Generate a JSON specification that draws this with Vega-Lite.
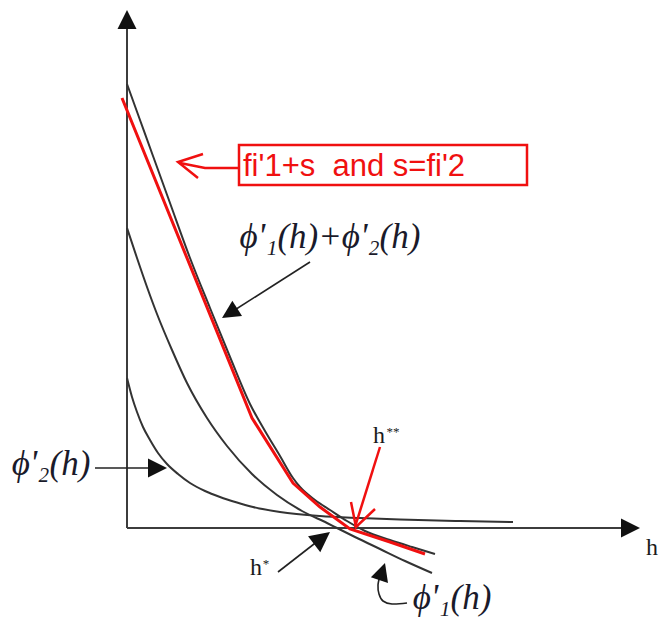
{
  "$schema": "https://vega.github.io/schema/vega-lite/v6.json",
  "width": 662,
  "height": 621,
  "padding": 0,
  "autosize": {"type": "fit", "contains": "padding"},
  "background": "white",
  "config": {"view": {"stroke": null}},
  "datasets": {
    "axes": [
      {"part": "vertical", "h": 0, "v": 0, "k": 0},
      {"part": "vertical", "h": 0, "v": 500, "k": 1},
      {"part": "horizontal", "h": 0, "v": 0, "k": 0},
      {"part": "horizontal", "h": 495, "v": 0, "k": 1}
    ],
    "curves": [
      {"series": "phi1+phi2", "h": 0, "v": 444},
      {"series": "phi1+phi2", "h": 13, "v": 408},
      {"series": "phi1+phi2", "h": 26, "v": 372},
      {"series": "phi1+phi2", "h": 43, "v": 325},
      {"series": "phi1+phi2", "h": 63, "v": 270},
      {"series": "phi1+phi2", "h": 83, "v": 220},
      {"series": "phi1+phi2", "h": 103, "v": 171},
      {"series": "phi1+phi2", "h": 123, "v": 124},
      {"series": "phi1+phi2", "h": 138, "v": 97},
      {"series": "phi1+phi2", "h": 153, "v": 72},
      {"series": "phi1+phi2", "h": 166, "v": 50},
      {"series": "phi1+phi2", "h": 173, "v": 41},
      {"series": "phi1+phi2", "h": 188, "v": 28},
      {"series": "phi1+phi2", "h": 203, "v": 18},
      {"series": "phi1+phi2", "h": 220, "v": 7},
      {"series": "phi1+phi2", "h": 238, "v": -3},
      {"series": "phi1+phi2", "h": 263, "v": -12},
      {"series": "phi1+phi2", "h": 285, "v": -19},
      {"series": "phi1+phi2", "h": 308, "v": -26},
      {"series": "phi1", "h": 0, "v": 300},
      {"series": "phi1", "h": 10, "v": 270},
      {"series": "phi1", "h": 20, "v": 241},
      {"series": "phi1", "h": 30, "v": 214},
      {"series": "phi1", "h": 45, "v": 178},
      {"series": "phi1", "h": 60, "v": 145},
      {"series": "phi1", "h": 80, "v": 110},
      {"series": "phi1", "h": 100, "v": 82},
      {"series": "phi1", "h": 125, "v": 54},
      {"series": "phi1", "h": 150, "v": 33},
      {"series": "phi1", "h": 175, "v": 17},
      {"series": "phi1", "h": 200, "v": 5},
      {"series": "phi1", "h": 210, "v": 0},
      {"series": "phi1", "h": 228, "v": -9},
      {"series": "phi1", "h": 253, "v": -21},
      {"series": "phi1", "h": 278, "v": -33},
      {"series": "phi1", "h": 305, "v": -45},
      {"series": "phi2", "h": 0, "v": 150},
      {"series": "phi2", "h": 5, "v": 131},
      {"series": "phi2", "h": 10, "v": 116},
      {"series": "phi2", "h": 16, "v": 101},
      {"series": "phi2", "h": 23, "v": 88},
      {"series": "phi2", "h": 31, "v": 75},
      {"series": "phi2", "h": 40, "v": 64},
      {"series": "phi2", "h": 51, "v": 54},
      {"series": "phi2", "h": 63, "v": 45},
      {"series": "phi2", "h": 78, "v": 37},
      {"series": "phi2", "h": 93, "v": 31},
      {"series": "phi2", "h": 110, "v": 25.5},
      {"series": "phi2", "h": 126, "v": 21},
      {"series": "phi2", "h": 153, "v": 16},
      {"series": "phi2", "h": 193, "v": 12},
      {"series": "phi2", "h": 233, "v": 10},
      {"series": "phi2", "h": 273, "v": 8.5},
      {"series": "phi2", "h": 333, "v": 7},
      {"series": "phi2", "h": 386, "v": 6}
    ],
    "redCurve": [
      {"h": -5, "v": 430},
      {"h": 125, "v": 110},
      {"h": 166, "v": 45},
      {"h": 193, "v": 21},
      {"h": 223, "v": -1},
      {"h": 263, "v": -14},
      {"h": 298, "v": -26}
    ],
    "redArrows": [
      {"part": "noteShaft", "h": 112, "v": 360, "k": 0},
      {"part": "noteShaft", "h": 78, "v": 360, "k": 1},
      {"part": "noteShaft", "h": 53, "v": 365, "k": 2},
      {"part": "noteHead", "h": 76, "v": 374, "k": 0},
      {"part": "noteHead", "h": 51, "v": 366, "k": 1},
      {"part": "noteHead", "h": 71, "v": 350, "k": 2},
      {"part": "hssShaft", "h": 253, "v": 81, "k": 0},
      {"part": "hssShaft", "h": 228, "v": 1, "k": 1},
      {"part": "hssHead", "h": 224, "v": 26, "k": 0},
      {"part": "hssHead", "h": 229, "v": 1, "k": 1},
      {"part": "hssHead", "h": 248, "v": 19, "k": 2}
    ],
    "note": [
      {"h1": 112, "h2": 400, "v1": 343, "v2": 383}
    ],
    "pointers": [
      {"part": "sum", "h": 183, "v": 266, "k": 0},
      {"part": "sum", "h": 103, "v": 215, "k": 1},
      {"part": "phi2", "h": -32, "v": 60, "k": 0},
      {"part": "phi2", "h": 30, "v": 60, "k": 1},
      {"part": "hstar", "h": 151, "v": -44, "k": 0},
      {"part": "hstar", "h": 196, "v": -9, "k": 1}
    ],
    "hook": [
      {"h": 280, "v": -75, "k": 0},
      {"h": 265, "v": -76, "k": 1},
      {"h": 256, "v": -73, "k": 2},
      {"h": 252, "v": -66, "k": 3},
      {"h": 251, "v": -57, "k": 4},
      {"h": 253, "v": -48, "k": 5}
    ],
    "heads": [
      {"name": "vertical", "h": 0, "v": 518},
      {"name": "horizontal", "h": 513, "v": 0},
      {"name": "phi2", "h": 40, "v": 60},
      {"name": "sum", "h": 95, "v": 210},
      {"name": "hstar", "h": 203, "v": -4},
      {"name": "phi1", "h": 258, "v": -35}
    ],
    "phiLabels": [
      {"label": "ϕ'₁(h)+ϕ'₂(h)", "h": 203, "v": 280},
      {"label": "ϕ'₂(h)", "h": -76, "v": 53},
      {"label": "ϕ'₁(h)", "h": 325, "v": -81}
    ],
    "hLabels": [
      {"label": "h", "h": 525, "v": -27},
      {"label": "h", "h": 129, "v": -47},
      {"label": "h", "h": 252, "v": 85}
    ],
    "stars": [
      {"label": "*", "h": 139, "v": -36},
      {"label": "**", "h": 266, "v": 96}
    ],
    "noteText": [
      {"label": "fi'1+s\u00a0 and s=fi'2", "h": 116, "v": 352}
    ]
  },
  "encoding": {
    "x": {"field": "h", "type": "quantitative", "axis": null, "scale": {"domain": [-127, 535], "nice": false, "zero": false}},
    "y": {"field": "v", "type": "quantitative", "axis": null, "scale": {"domain": [-93, 528], "nice": false, "zero": false}}
  },
  "layer": [
    {
      "data": {"name": "axes"},
      "mark": {"type": "line", "stroke": "#3c3c3c", "strokeWidth": 2},
      "encoding": {"detail": {"field": "part"}, "order": {"field": "k"}}
    },
    {
      "data": {"name": "curves"},
      "mark": {"type": "line", "interpolate": "monotone", "stroke": "#333333", "strokeWidth": 2},
      "encoding": {"detail": {"field": "series"}}
    },
    {
      "data": {"name": "redCurve"},
      "mark": {"type": "line", "stroke": "#f01010", "strokeWidth": 3},
      "encoding": {}
    },
    {
      "data": {"name": "note"},
      "mark": {"type": "rect", "filled": false, "stroke": "#f01010", "strokeWidth": 2.5},
      "encoding": {
        "x": {"field": "h1", "type": "quantitative"},
        "x2": {"field": "h2"},
        "y": {"field": "v1", "type": "quantitative"},
        "y2": {"field": "v2"}
      }
    },
    {
      "data": {"name": "redArrows"},
      "mark": {"type": "line", "stroke": "#f01010", "strokeWidth": 2.5},
      "encoding": {"detail": {"field": "part"}, "order": {"field": "k"}}
    },
    {
      "data": {"name": "pointers"},
      "mark": {"type": "line", "stroke": "#222222", "strokeWidth": 1.6},
      "encoding": {"detail": {"field": "part"}, "order": {"field": "k"}}
    },
    {
      "data": {"name": "hook"},
      "mark": {"type": "line", "interpolate": "cardinal", "stroke": "#222222", "strokeWidth": 1.6},
      "encoding": {"order": {"field": "k"}}
    },
    {
      "data": {"name": "heads"},
      "transform": [{"filter": "datum.name === 'vertical'"}],
      "mark": {"type": "point", "shape": "M0,0L-2,-1L-2,1Z", "filled": true, "fill": "#111111", "opacity": 1, "size": 361, "angle": 270, "strokeWidth": 0}
    },
    {
      "data": {"name": "heads"},
      "transform": [{"filter": "datum.name === 'horizontal' || datum.name === 'phi2'"}],
      "mark": {"type": "point", "shape": "M0,0L-2,-1L-2,1Z", "filled": true, "fill": "#111111", "opacity": 1, "size": 361, "angle": 0, "strokeWidth": 0}
    },
    {
      "data": {"name": "heads"},
      "transform": [{"filter": "datum.name === 'sum'"}],
      "mark": {"type": "point", "shape": "M0,0L-2,-1L-2,1Z", "filled": true, "fill": "#111111", "opacity": 1, "size": 324, "angle": 147.5, "strokeWidth": 0}
    },
    {
      "data": {"name": "heads"},
      "transform": [{"filter": "datum.name === 'hstar'"}],
      "mark": {"type": "point", "shape": "M0,0L-2,-1L-2,1Z", "filled": true, "fill": "#111111", "opacity": 1, "size": 400, "angle": 322.4, "strokeWidth": 0}
    },
    {
      "data": {"name": "heads"},
      "transform": [{"filter": "datum.name === 'phi1'"}],
      "mark": {"type": "point", "shape": "M0,0L-2,-1L-2,1Z", "filled": true, "fill": "#111111", "opacity": 1, "size": 324, "angle": 288, "strokeWidth": 0}
    },
    {
      "data": {"name": "phiLabels"},
      "mark": {"type": "text", "font": "Liberation Serif", "fontStyle": "italic", "fontSize": 35, "align": "center", "baseline": "alphabetic", "fill": "#1a1a2a"},
      "encoding": {"text": {"field": "label"}}
    },
    {
      "data": {"name": "hLabels"},
      "mark": {"type": "text", "font": "Liberation Serif", "fontSize": 24, "align": "center", "baseline": "alphabetic", "fill": "#1a1a1a"},
      "encoding": {"text": {"field": "label"}}
    },
    {
      "data": {"name": "stars"},
      "mark": {"type": "text", "font": "Liberation Serif", "fontSize": 13, "align": "center", "baseline": "middle", "fill": "#1a1a1a"},
      "encoding": {"text": {"field": "label"}}
    },
    {
      "data": {"name": "noteText"},
      "mark": {"type": "text", "font": "Liberation Sans", "fontSize": 31, "align": "left", "baseline": "alphabetic", "fill": "#f01010"},
      "encoding": {"text": {"field": "label"}}
    }
  ]
}
